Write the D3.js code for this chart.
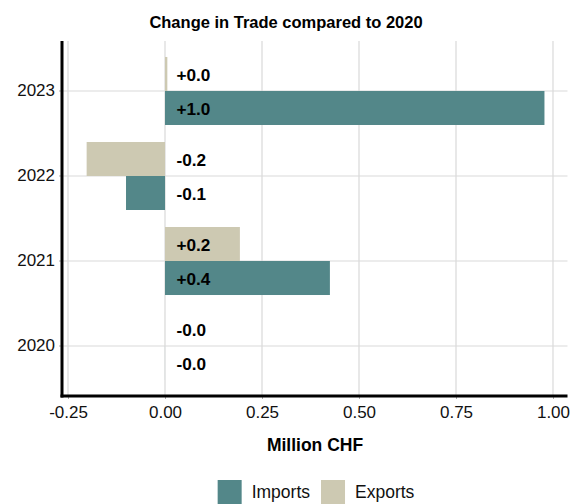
<!DOCTYPE html>
<html>
<head>
<meta charset="utf-8">
<script src="https://cdn.jsdelivr.net/npm/d3@7"></script>
<style>
  html, body { margin: 0; padding: 0; background: #fff; }
  svg { display: block; font-family: "Liberation Sans", Arial, sans-serif; }
</style>
</head>
<body>
<svg id="chart" width="577" height="504"></svg>
<script>
const years = ["2023", "2022", "2021", "2020"];
const seriesNames = ["Exports", "Imports"];
const importsValues = [0.978, -0.1005, 0.425, -0.0001];
const exportsValues = [0.006, -0.202, 0.193, -0.0001];
const xTicks = [-0.25, 0, 0.25, 0.5, 0.75, 1.0];
const xDomain = [-0.2655, 1.0374];
const colors = { Imports: "#538789", Exports: "#cdc9b2" };
const titleText = "Change in Trade compared to 2020";
const xTitle = "Million CHF";

(function () {
const rows = [];
years.forEach((yr, i) => {
  rows.push({ year: yr, series: "Exports", value: exportsValues[i] });
  rows.push({ year: yr, series: "Imports", value: importsValues[i] });
});

const loc = d3.formatLocale({ decimal: ".", thousands: ",", grouping: [3], currency: ["", ""], minus: "-" });

const svg = d3.select("#chart");
const pLeft = 62, pRight = 567.5, pTop = 41, pBottom = 396;

const x = d3.scaleLinear().domain(xDomain).range([pLeft, pRight]);
const y = d3.scaleBand().domain(years).range([pTop, pBottom]).paddingInner(0).paddingOuter(0.088);
const sub = d3.scaleBand().domain(seriesNames).range([0, y.bandwidth()]).paddingInner(0).paddingOuter(0.25);

// gridlines
const grid = svg.append("g");
grid.selectAll("line.v").data(xTicks).join("line")
  .attr("x1", d => x(d)).attr("x2", d => x(d))
  .attr("y1", pTop).attr("y2", pBottom)
  .attr("stroke", "#d9d9d9").attr("stroke-width", 1.2);
grid.selectAll("line.h").data(years).join("line")
  .attr("x1", pLeft).attr("x2", pRight)
  .attr("y1", d => y(d) + y.bandwidth() / 2).attr("y2", d => y(d) + y.bandwidth() / 2)
  .attr("stroke", "#d9d9d9").attr("stroke-width", 1.2);

// bars
svg.append("g").selectAll("rect").data(rows).join("rect")
  .attr("x", d => x(Math.min(0, d.value)))
  .attr("width", d => Math.abs(x(d.value) - x(0)))
  .attr("y", d => y(d.year) + sub(d.series))
  .attr("height", sub.bandwidth())
  .attr("fill", d => colors[d.series]);

// labels
const fmt = loc.format("+.1f");
svg.append("g").selectAll("text").data(rows).join("text")
  .attr("x", x(0) + 11.5)
  .attr("y", d => y(d.year) + sub(d.series) + sub.bandwidth() / 2 + 1)
  .attr("dominant-baseline", "central")
  .attr("font-size", 17.2).attr("font-weight", "bold").attr("fill", "#000")
  .text(d => fmt(d.value));

// x axis
const xAxis = d3.axisBottom(x).tickValues(xTicks).tickFormat(loc.format(".2f")).tickSize(3).tickPadding(7);
const gx = svg.append("g").attr("transform", `translate(0,${pBottom})`).call(xAxis);
gx.select(".domain").remove();
gx.selectAll(".tick line").attr("stroke", "#aaa");
gx.selectAll(".tick text").attr("font-size", 17).attr("fill", "#111").attr("font-family", "Liberation Sans, Arial, sans-serif");

// y axis
const yAxis = d3.axisLeft(y).tickSize(3).tickPadding(4);
const gy = svg.append("g").attr("transform", `translate(${pLeft},0)`).call(yAxis);
gy.select(".domain").remove();
gy.selectAll(".tick line").attr("stroke", "#aaa");
gy.selectAll(".tick text").attr("font-size", 17).attr("fill", "#111").attr("font-family", "Liberation Sans, Arial, sans-serif");

// axis lines
svg.append("line").attr("x1", pLeft).attr("x2", pLeft).attr("y1", pTop).attr("y2", pBottom + 1.5)
  .attr("stroke", "#000").attr("stroke-width", 3);
svg.append("line").attr("x1", pLeft - 1.5).attr("x2", pRight).attr("y1", pBottom).attr("y2", pBottom)
  .attr("stroke", "#000").attr("stroke-width", 3);

// title
svg.append("text").attr("x", 286).attr("y", 28).attr("text-anchor", "middle")
  .attr("font-size", 16.5).attr("font-weight", "bold").attr("fill", "#000").text(titleText);

// x title
svg.append("text").attr("x", 315).attr("y", 450.5).attr("text-anchor", "middle")
  .attr("font-size", 17.5).attr("font-weight", "bold").attr("fill", "#000").text(xTitle);

// legend
const legendItems = ["Imports", "Exports"];
const lg = svg.append("g");
const sw = 24, gapText = 10, gapItem = 11;
const items = legendItems.map(name => {
  const t = lg.append("text").attr("font-size", 17.5).text(name);
  const w = t.node().getComputedTextLength();
  return { name, t, w };
});
const total = items.reduce((s, d) => s + sw + gapText + d.w, 0) + gapItem * (items.length - 1);
let cx = 316 - total / 2;
items.forEach(it => {
  lg.append("rect").attr("x", cx).attr("y", 480).attr("width", sw).attr("height", sw).attr("fill", colors[it.name]);
  it.t.attr("x", cx + sw + gapText).attr("y", 498).attr("fill", "#111");
  cx += sw + gapText + it.w + gapItem;
});
})();
</script>
</body>
</html>
